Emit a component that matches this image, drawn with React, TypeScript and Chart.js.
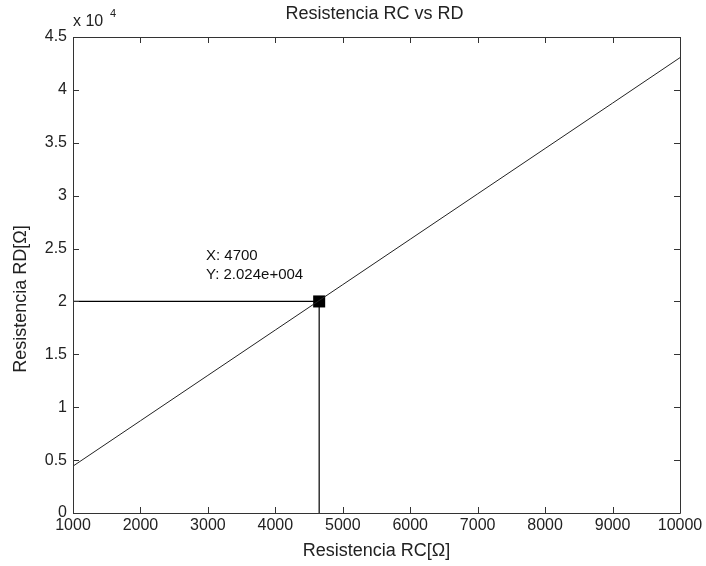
import React, { useEffect, useRef } from "react";
import { Chart, registerables } from "chart.js";

Chart.register(...registerables);

const rcValues = [1000, 2000, 3000, 4000, 5000, 6000, 7000, 8000, 9000, 10000];
const rdValues = [4430, 8720, 13010, 17300, 21590, 25880, 30170, 34460, 38750, 43050];
const markerX = 4650;
const markerY = 20000;
const tipLines = ["X: 4700", "Y: 2.024e+004"];
const titleText = "Resistencia RC vs RD";
const xTitle = "Resistencia RC[\u03A9]";
const yTitle = "Resistencia RD[\u03A9]";

const FONT = "'Liberation Sans', Arial, sans-serif";

export default function App() {
  const ref = useRef<HTMLCanvasElement | null>(null);
  useEffect(() => {
    document.body.style.margin = "0";
    const canvas = ref.current!;
    const decor = {
      id: "decor",
      afterDraw(chart: any) {
        const { ctx, chartArea: a, scales } = chart;
        const xs = scales.x, ys = scales.y;
        ctx.save();
        ctx.strokeStyle = "#333";
        ctx.lineWidth = 1;
        ctx.beginPath();
        ctx.rect(Math.round(a.left) + 0.5, Math.round(a.top) + 0.5, Math.round(a.right - a.left), Math.round(a.bottom - a.top));
        ctx.stroke();
        const tl = 6;
        ctx.beginPath();
        for (const t of xs.ticks) {
          const px = Math.round(xs.getPixelForValue(t.value)) + 0.5;
          ctx.moveTo(px, a.bottom); ctx.lineTo(px, a.bottom - tl);
          ctx.moveTo(px, a.top); ctx.lineTo(px, a.top + tl);
        }
        for (const t of ys.ticks) {
          const py = Math.round(ys.getPixelForValue(t.value)) + 0.5;
          ctx.moveTo(a.left, py); ctx.lineTo(a.left + tl, py);
          ctx.moveTo(a.right, py); ctx.lineTo(a.right - tl, py);
        }
        ctx.stroke();
        ctx.fillStyle = "#222";
        ctx.font = `18px ${FONT}`;
        ctx.textAlign = "center";
        ctx.textBaseline = "middle";
        ctx.fillText(titleText, (a.left + a.right) / 2 - 2, 14);
        ctx.fillText(xTitle, (a.left + a.right) / 2, 551);
        ctx.save();
        ctx.translate(21, (a.top + a.bottom) / 2 + 24);
        ctx.rotate(-Math.PI / 2);
        ctx.fillText(yTitle, 0, 0);
        ctx.restore();
        ctx.textAlign = "left";
        ctx.font = `16px ${FONT}`;
        ctx.fillText("x 10", a.left, 22);
        ctx.font = `11px ${FONT}`;
        ctx.fillText("4", a.left + 37, 14);
        ctx.font = `15px ${FONT}`;
        ctx.fillStyle = "#111";
        ctx.fillText(tipLines[0], 206, 256);
        ctx.fillText(tipLines[1], 206, 275);
        ctx.restore();
      },
    };
    const chart = new Chart(canvas, {
      type: "line",
      data: {
        datasets: [
          {
            data: rcValues.map((x, i) => ({ x, y: rdValues[i] })),
            borderColor: "#222",
            borderWidth: 1,
            pointRadius: 0,
            tension: 0,
          },
          {
            data: [
              { x: rcValues[0], y: markerY },
              { x: markerX, y: markerY },
              { x: markerX, y: 0 },
            ],
            borderColor: "#000",
            borderWidth: 1.2,
            pointRadius: 0,
          },
          {
            data: [{ x: markerX, y: markerY }],
            showLine: false,
            pointStyle: "rect",
            pointRadius: 8.5,
            backgroundColor: "#000",
            borderColor: "#000",
            borderWidth: 0,
          },
        ],
      },
      options: {
        animation: false,
        responsive: false,
        devicePixelRatio: 1,
        layout: { padding: { left: 0, top: 37, right: 26, bottom: 0 } },
        plugins: { legend: { display: false }, tooltip: { enabled: false }, title: { display: false } },
        scales: {
          x: {
            type: "linear",
            min: 1000,
            max: 10000,
            afterFit: (s: any) => { s.height = 53; },
            grid: { display: false, drawTicks: false },
            border: { display: false },
            ticks: {
              stepSize: 1000,
              padding: 3,
              maxRotation: 0,
              color: "#222",
              font: { family: FONT, size: 16 },
              callback: (v: any) => String(v),
            },
          },
          y: {
            min: 0,
            max: 45000,
            afterFit: (s: any) => { s.width = 73; },
            grid: { display: false, drawTicks: false },
            border: { display: false },
            ticks: {
              stepSize: 5000,
              padding: 6,
              color: "#222",
              font: { family: FONT, size: 16 },
              callback: (v: any) => String(Number(v) / 10000),
            },
          },
        },
      },
      plugins: [decor],
    });
    return () => chart.destroy();
  }, []);
  return (
    <div style={{ position: "absolute", left: 0, top: 0, width: 706, height: 566, background: "#fff" }}>
      <canvas ref={ref} width={706} height={566} style={{ width: 706, height: 566 }} />
    </div>
  );
}
